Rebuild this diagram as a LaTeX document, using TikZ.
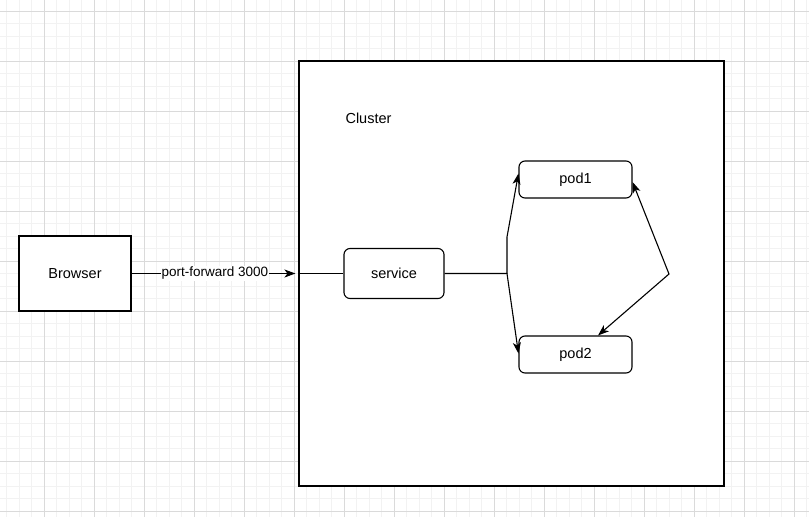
\documentclass[tikz,border=0pt]{standalone}
\usepackage{fontspec}
\setmainfont{Liberation Sans}
\usetikzlibrary{arrows.meta,calc}

\definecolor{gridminor}{RGB}{242,242,242}
\definecolor{gridmajor}{RGB}{218,218,218}

\tikzset{
  box/.style={draw=black, line width=1.1pt, fill=white, inner sep=0pt,
              font=\fontsize{14.5}{17}\selectfont},
  podbox/.style={box, rounded corners=6pt},
  link/.style={draw=black, line width=1.1pt},
  tip/.style={},
  arr/.style={link, -{Stealth[length=11pt,width=8pt,inset=3pt]}},
  darr/.style={link, {Stealth[length=11pt,width=8pt,inset=3pt]}-{Stealth[length=11pt,width=8pt,inset=3pt]}},
  edgelabel/.style={fill=white, inner sep=1pt, font=\fontsize{13.5}{16}\selectfont},
}

\begin{document}
\begin{tikzpicture}[x=1pt,y=-1pt]
  \useasboundingbox (0,0) rectangle (809,517);
  \fill[white] (0,0) rectangle (809,517);

  % background grid: fine lines every 12.5, heavier every 50
  \foreach \i in {0,...,65} {
    \pgfmathsetmacro{\gx}{-5.7+12.5*\i}
    \draw[gridminor, line width=0.8pt] (\gx,0) -- (\gx,517);
  }
  \foreach \i in {0,...,42} {
    \pgfmathsetmacro{\gy}{-1.2+12.5*\i}
    \draw[gridminor, line width=0.8pt] (0,\gy) -- (809,\gy);
  }
  \foreach \i in {0,...,16} {
    \pgfmathsetmacro{\gx}{-5.7+50*\i}
    \draw[gridmajor, line width=0.8pt] (\gx,0) -- (\gx,517);
  }
  \foreach \i in {0,...,10} {
    \pgfmathsetmacro{\gy}{11.3+50*\i}
    \draw[gridmajor, line width=0.8pt] (0,\gy) -- (809,\gy);
  }

  % shapes
  \node[box, minimum width=112pt, minimum height=75pt] (browser) at (75,273.5) {Browser};
  \node[box, minimum width=425pt, minimum height=425pt] (cluster) at (511.5,273.5) {};
  \node[font=\fontsize{14.5}{17}\selectfont] (clusterlabel) at (368.5,118) {Cluster};
  \node[podbox, minimum width=100pt, minimum height=50pt] (service) at (394,273.5) {service};
  \node[podbox, minimum width=113pt, minimum height=37pt] (pod1) at (575.5,179.5) {pod1};
  \node[podbox, minimum width=113pt, minimum height=37pt] (pod2) at (575.5,354.5) {pod2};

  % routing points
  \coordinate (split) at (507,273.5);
  \coordinate (bend) at (507,237);
  \coordinate (right) at (669,274);

  % connectors
  \draw[arr, shorten >=3pt] (browser.east) -- node[edgelabel] {port-forward 3000} (cluster.west);
  \draw[link] (cluster.west) -- (service.west);
  \draw[arr] (service.east) -- (split) -- (bend) -- ([yshift=6pt]pod1.west);
  \draw[arr] (split) -- ([yshift=1pt]pod2.west);
  \draw[darr] ([yshift=-2.5pt]pod1.east) -- (right) -- ([xshift=22.5pt]pod2.north);
\end{tikzpicture}
\end{document}
